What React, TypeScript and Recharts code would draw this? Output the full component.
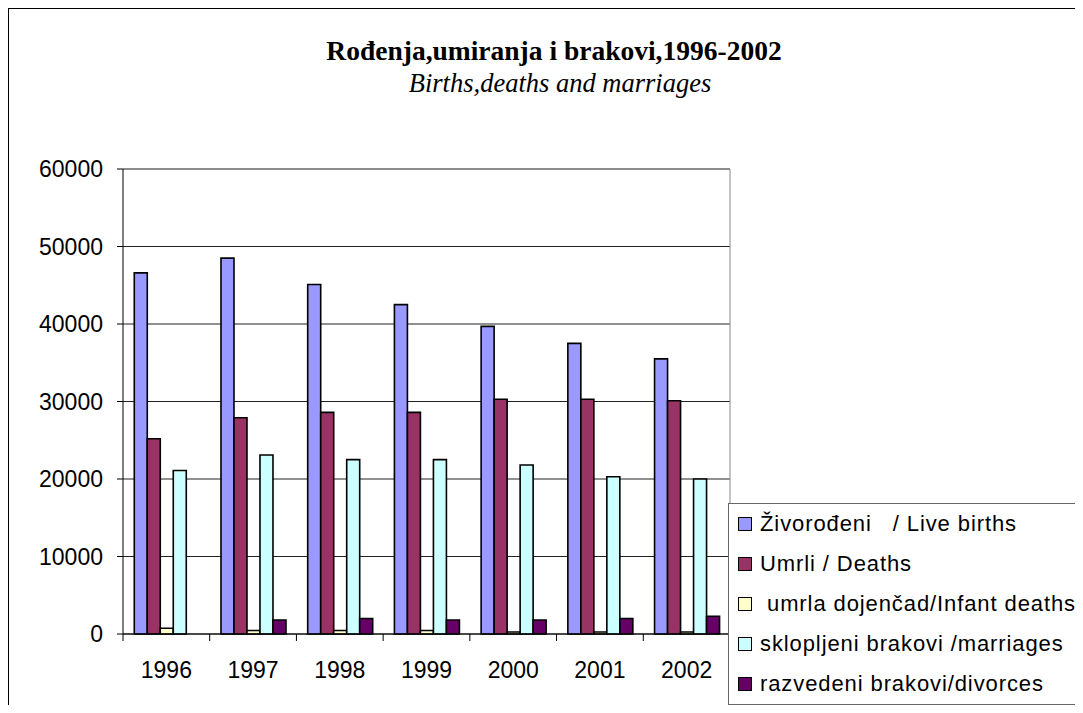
import React from "react";
import {
  BarChart,
  Bar,
  XAxis,
  YAxis,
  CartesianGrid,
  Legend,
  ReferenceLine,
} from "recharts";

const years = ["1996", "1997", "1998", "1999", "2000", "2001", "2002"];
const liveBirths = [46600, 48500, 45100, 42500, 39700, 37500, 35500];
const deaths = [25200, 27900, 28600, 28600, 30300, 30300, 30100];
const infantDeaths = [750, 450, 450, 450, 250, 250, 250];
const marriages = [21100, 23100, 22500, 22500, 21800, 20300, 20000];
const divorces = [null, 1800, 2000, 1800, 1800, 2000, 2300];

const yTicks = [0, 10000, 20000, 30000, 40000, 50000, 60000];

const seriesKeys = ["births", "deaths", "infant", "marriages", "divorces"];
const seriesNames = [
  "Živorođeni   / Live births",
  "Umrli / Deaths",
  " umrla dojenčad/Infant deaths",
  "sklopljeni brakovi /marriages",
  "razvedeni brakovi/divorces",
];
const seriesColors = ["#9999FF", "#993366", "#FFFFCC", "#CCFFFF", "#660066"];

const data = years.map((year, i) => ({
  year,
  births: liveBirths[i],
  deaths: deaths[i],
  infant: infantDeaths[i],
  marriages: marriages[i],
  divorces: divorces[i],
}));

const sans = "Arial, 'Liberation Sans', sans-serif";
const serif = "'Times New Roman', 'Liberation Serif', serif";

// category axis: label centred, tick marks on category boundaries
function YearTick(props: any) {
  const { x, y, payload, index, visibleTicksCount } = props;
  const half = payload.offset || 0;
  const top = y - 28;
  return (
    <g>
      <line x1={x - half} x2={x - half} y1={top} y2={top + 7} stroke="#000" />
      {index === visibleTicksCount - 1 && (
        <line x1={x + half} x2={x + half} y1={top} y2={top + 7} stroke="#000" />
      )}
      <text
        x={x}
        y={y}
        dy="0.71em"
        textAnchor="middle"
        fill="#000"
        fontSize={23}
        fontFamily={sans}
      >
        {payload.value}
      </text>
    </g>
  );
}

function LegendBox() {
  return (
    <div
      style={{
        width: 351,
        height: 202,
        border: "1px solid #666",
        background: "#fff",
        boxSizing: "border-box",
        fontFamily: sans,
        fontSize: 22,
        letterSpacing: 0.9,
        color: "#000",
      }}
    >
      {seriesNames.map((name, i) => (
        <div
          key={name}
          style={{ height: 40, display: "flex", alignItems: "center" }}
        >
          <span
            style={{
              width: 14,
              height: 14,
              marginLeft: 9,
              marginRight: 8,
              border: "1.5px solid #000",
              boxSizing: "border-box",
              background: seriesColors[i],
              flex: "none",
            }}
          />
          <span style={{ whiteSpace: "pre" }}>{name}</span>
        </div>
      ))}
    </div>
  );
}

export default function App() {
  return (
    <div
      style={{
        position: "relative",
        width: 1083,
        height: 713,
        margin: -8,
        overflow: "hidden",
        background: "#fff",
      }}
    >
      <div
        style={{
          position: "absolute",
          left: 8,
          top: 8,
          width: 1200,
          height: 800,
          border: "1px solid #000",
        }}
      />
      <div
        style={{
          position: "absolute",
          left: 0,
          width: 1108,
          top: 37,
          textAlign: "center",
          fontFamily: serif,
          fontWeight: "bold",
          fontSize: 27.5,
          lineHeight: "27px",
          whiteSpace: "pre",
        }}
      >
        Rođenja,umiranja i brakovi,1996-2002
      </div>
      <div
        style={{
          position: "absolute",
          left: 0,
          width: 1120,
          top: 70,
          textAlign: "center",
          fontFamily: serif,
          fontStyle: "italic",
          fontSize: 26.5,
          lineHeight: "26px",
        }}
      >
        Births,deaths and marriages
      </div>
      <div style={{ position: "absolute", left: 0, top: 0 }}>
        <BarChart
          width={1083}
          height={713}
          data={data}
          margin={{ top: 169, right: 353, left: 0, bottom: 0 }}
          barGap={0}
          barCategoryGap="13%"
        >
          <CartesianGrid vertical={false} stroke="#222" />
          <CartesianGrid
            horizontal={false}
            verticalPoints={[730]}
            stroke="#888"
          />
          <ReferenceLine y={60000} stroke="#888" />
          <XAxis
            dataKey="year"
            height={79}
            tickSize={7}
            tickMargin={21}
            tickLine={false}
            axisLine={{ stroke: "#000" }}
            interval={0}
            tick={<YearTick />}
          />
          <YAxis
            width={123}
            domain={[0, 60000]}
            ticks={yTicks}
            tickSize={6}
            tickMargin={14}
            axisLine={{ stroke: "#000" }}
            tickLine={{ stroke: "#000" }}
            tick={{ fill: "#000", fontSize: 23, fontFamily: sans }}
          />
          {seriesKeys.map((key, i) => (
            <Bar
              key={key}
              dataKey={key}
              name={seriesNames[i]}
              fill={seriesColors[i]}
              stroke="#000"
              strokeWidth={1.6}
              isAnimationActive={false}
            />
          ))}
          <Legend
            layout="vertical"
            align="center"
            verticalAlign="middle"
            content={() => <LegendBox />}
            wrapperStyle={{ left: 728, top: 503, width: 351, height: 202 }}
          />
        </BarChart>
      </div>
    </div>
  );
}
